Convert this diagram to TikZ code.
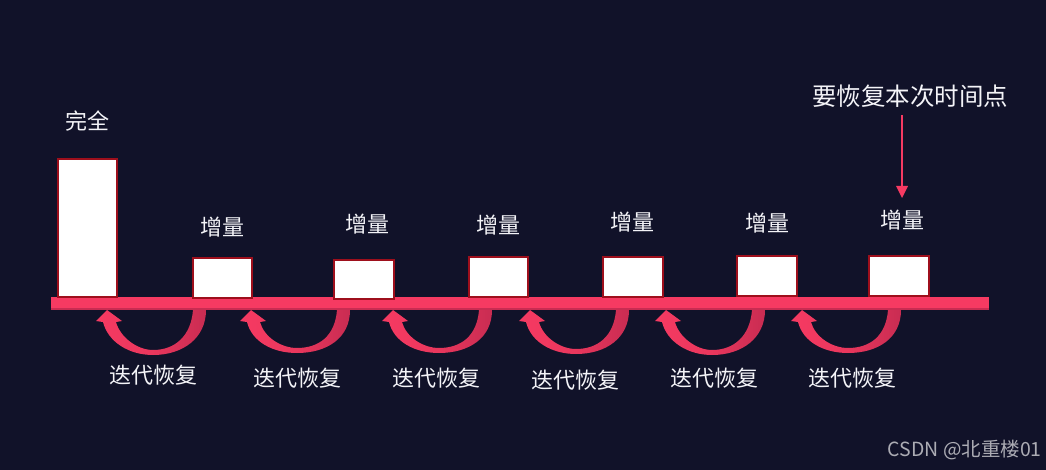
\documentclass[tikz,border=0pt]{standalone}
\usepackage{fontspec}
\setmainfont{Noto Sans CJK SC}
\definecolor{bgc}{HTML}{111229}
\definecolor{barc}{HTML}{F63A62}
\definecolor{barshade}{HTML}{C92C52}
\definecolor{edgec}{HTML}{9E0F1C}
\definecolor{txtc}{HTML}{F4F4F8}
\tikzset{
  blockbox/.style={draw=edgec,line width=2.2pt,fill=white,inner sep=0pt,outer sep=0pt,minimum width=60pt},
  lab/.style={text=txtc,inner sep=0pt,font=\fontsize{22}{24}\selectfont},
  targetlab/.style={text=txtc,inner sep=0pt,font=\fontsize{24.5}{28}\selectfont},
  mark text/.style={text=white!65!bgc,inner sep=0pt,font=\fontsize{19.5}{22}\selectfont},
  pointer/.style={draw=barc,line width=2pt},
  pics/backarrow/.style={code={
    \path[left color=barc,right color=barshade,middle color=barc!95!black]
      (0,0) -- (15,11) -- (9,12)
      .. controls (13,27) and (30,#1-5) .. (46,#1-5)
      .. controls (68,#1-5) and (84,26) .. (86,0)
      -- (99,0)
      .. controls (99,28) and (76,#1) .. (46,#1)
      .. controls (22,#1) and (1,32) .. (-4,12)
      -- (-11,11) -- cycle;
  }}
}
\begin{document}
\begin{tikzpicture}[x=1pt,y=-1pt]
\useasboundingbox (0,0) rectangle (1046,470);
\fill[bgc] (0,0) rectangle (1046,470);
% timeline
\node[fill=barc,inner sep=0pt,outer sep=0pt,minimum width=938pt,minimum height=11pt] (bar) at (520,302.5) {};
\fill[barshade] (bar.south west) rectangle ([yshift=-2pt]bar.south east);
% blocks
\node[blockbox,minimum width=59pt,minimum height=138pt] (full) at (87.5,228) {};
\node[blockbox,minimum width=59pt,minimum height=40pt] (b1) at (222.5,278) {};
\node[blockbox,minimum height=39pt] (b2) at (364,279.5) {};
\node[blockbox,minimum width=59pt,minimum height=40pt] (b3) at (498.5,277) {};
\node[blockbox,minimum height=40pt] (b4) at (633,277) {};
\node[blockbox,minimum height=40pt] (b5) at (767,276) {};
\node[blockbox,minimum height=40pt] (b6) at (899,276) {};
% restore arrows
\pic at (107,310) {backarrow=45};
\pic at (251,310) {backarrow=43};
\pic at (393,310) {backarrow=43};
\pic at (530,310) {backarrow=44};
\pic at (666,310) {backarrow=45};
\pic at (802,310) {backarrow=43};
% labels
\node[lab] (lfull) at (87.5,121) {完全};
\node[lab] (l1) at (222,227) {增量};
\node[lab] (l2) at (367,224) {增量};
\node[lab] (l3) at (498,225) {增量};
\node[lab] (l4) at (632.5,222) {增量};
\node[lab] (l5) at (767.5,223) {增量};
\node[lab] (l6) at (902.5,220) {增量};
\node[lab] (r1) at (153,375) {迭代恢复};
\node[lab] (r2) at (297,378) {迭代恢复};
\node[lab] (r3) at (436.5,378) {迭代恢复};
\node[lab] (r4) at (575,380) {迭代恢复};
\node[lab] (r5) at (714.5,378) {迭代恢复};
\node[lab] (r6) at (852,378) {迭代恢复};
\node[targetlab] (target) at (910,96) {要恢复本次时间点};
\node[mark text,anchor=east] (mark) at (1042,450) {CSDN @北重楼01};
% pointer
\coordinate (ptop) at (902,115.5);
\coordinate (ptip) at (902,198);
\draw[pointer] (ptop) -- (902,186);
\fill[barc] (ptip) -- (896,186) -- (908,186) -- cycle;
\end{tikzpicture}
\end{document}
